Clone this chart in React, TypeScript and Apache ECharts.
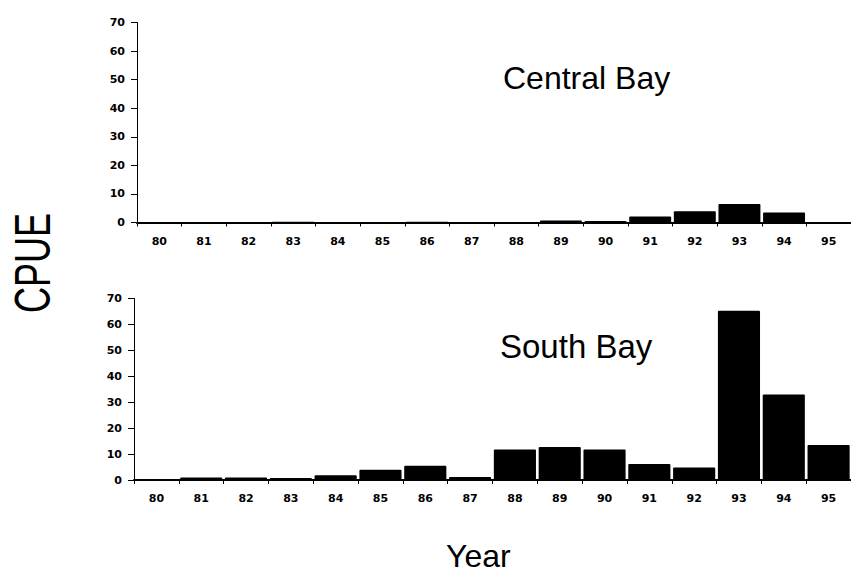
import React, { useEffect, useRef } from "react";
import * as echarts from "echarts";

const years = ["80", "81", "82", "83", "84", "85", "86", "87", "88", "89", "90", "91", "92", "93", "94", "95"];
const centralBay = [0, 0, 0.2, 0.3, 0, 0.2, 0.3, 0, 0.2, 0.7, 0.5, 2.1, 3.9, 6.5, 3.5, 0];
const southBay = [0, 1.0, 1.0, 0.8, 1.8, 4.0, 5.5, 1.2, 11.8, 12.7, 11.8, 6.2, 4.8, 65.3, 33.0, 13.5];
const yTicks = { min: 0, max: 70, interval: 10 };

const FONT = "'Liberation Sans', Arial, Helvetica, sans-serif";

export default function App() {
  const ref = useRef<HTMLDivElement>(null);
  useEffect(() => {
    document.body.style.margin = "0";
    if (!ref.current) return;
    const chart = echarts.init(ref.current, null, { renderer: "svg" });
    const xAxisBase = (gridIndex: number) => ({
      type: "category" as const,
      gridIndex,
      data: years,
      boundaryGap: true,
      axisLine: { lineStyle: { color: "#000", width: 2 } },
      axisTick: { show: true, length: 4, lineStyle: { color: "#000", width: 1 } },
      axisLabel: {
        color: "#000",
        fontSize: 11,
        fontWeight: "bold" as const,
        fontFamily: "'DejaVu Sans', sans-serif",
        margin: 13,
      },
    });
    const yAxisBase = (gridIndex: number) => ({
      type: "value" as const,
      gridIndex,
      min: yTicks.min,
      max: yTicks.max,
      interval: yTicks.interval,
      splitLine: { show: false },
      axisLine: { show: true, lineStyle: { color: "#000", width: 1 } },
      axisTick: { show: true, length: 6, lineStyle: { color: "#000", width: 1 } },
      axisLabel: {
        color: "#000",
        fontSize: 11,
        fontWeight: "bold" as const,
        fontFamily: "'DejaVu Sans', sans-serif",
        margin: 12,
      },
    });
    chart.setOption({
      animation: false,
      backgroundColor: "#fff",
      grid: [
        { left: 137, top: 22.5, height: 200, width: 720 },
        { left: 134, top: 298.5, height: 181.5, width: 722 },
      ],
      xAxis: [xAxisBase(0), xAxisBase(1)],
      yAxis: [yAxisBase(0), yAxisBase(1)],
      series: [
        {
          type: "bar",
          xAxisIndex: 0,
          yAxisIndex: 0,
          data: centralBay,
          barCategoryGap: "6%",
          itemStyle: { color: "#000", borderRadius: 1 },
        },
        {
          type: "bar",
          xAxisIndex: 1,
          yAxisIndex: 1,
          data: southBay,
          barCategoryGap: "6%",
          itemStyle: { color: "#000", borderRadius: 1 },
        },
      ],
      graphic: [
        {
          type: "text",
          left: 503,
          top: 62,
          style: { text: "Central Bay", fontSize: 32, fontFamily: FONT, fill: "#000" },
        },
        {
          type: "text",
          left: 500,
          top: 330,
          style: { text: "South Bay", fontSize: 33, fontFamily: FONT, fill: "#000" },
        },
        {
          type: "text",
          left: 446,
          top: 540,
          style: { text: "Year", fontSize: 32, fontFamily: FONT, fill: "#000" },
        },
        {
          type: "text",
          x: 32,
          y: 263,
          rotation: Math.PI / 2,
          scaleY: 1.4,
          style: {
            text: "CPUE",
            fontSize: 36,
            fontFamily: FONT,
            fill: "#000",
            align: "center",
            verticalAlign: "middle",
          },
        },
      ],
    });
    return () => chart.dispose();
  }, []);
  return <div ref={ref} style={{ width: 851, height: 574 }} />;
}
